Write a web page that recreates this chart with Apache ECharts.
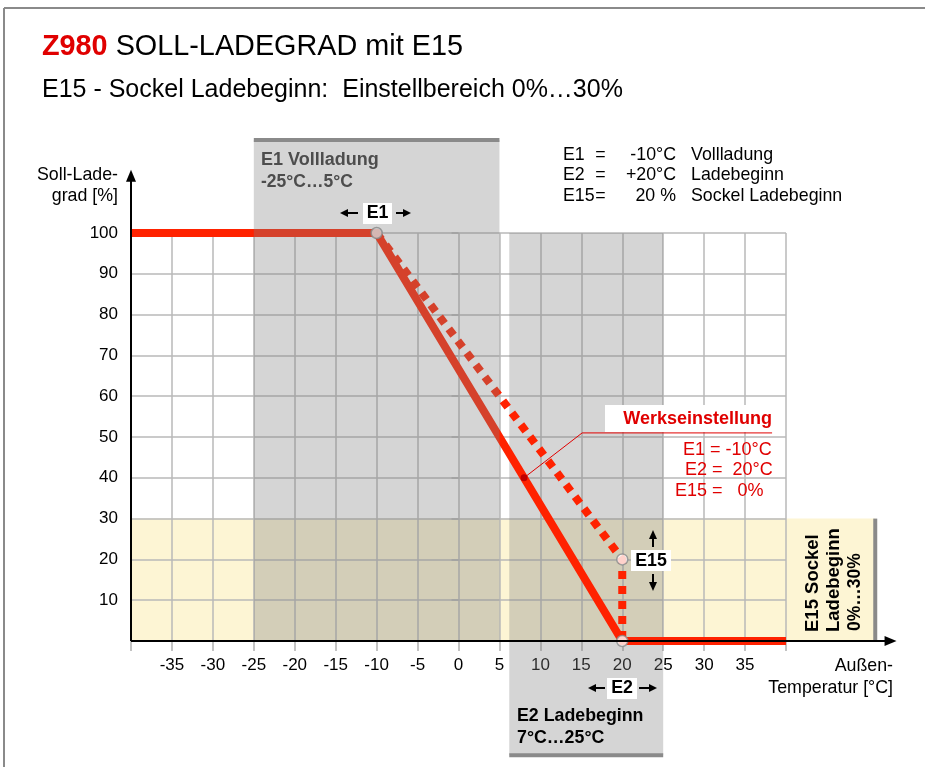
<!DOCTYPE html>
<html><head><meta charset="utf-8">
<script src="https://cdn.jsdelivr.net/npm/echarts@6/dist/echarts.min.js"></script>
<style>html,body{margin:0;padding:0;background:#fff}#c{width:925px;height:767px}</style>
</head><body><div id="c"></div>
<script>
// ---- data ----
const xTickLabels = [-35,-30,-25,-20,-15,-10,-5,0,5,10,15,20,25,30,35];
const yTickLabels = [10,20,30,40,50,60,70,80,90,100];
const solidX = [-40,-10,20,40];
const solidY = [100,100,0,0];
const dottedX = [-10,20,20];
const dottedY = [100,20,0];
const pointX = [-10,20,20];
const pointY = [100,20,0];
const leaderX = [8,15.1,38.3];
const leaderY = [40,51,51];
// bands: [x0, x1, y0, y1]
const bandE1 = [-25,5,0,122.8];
const bandE2 = [6.2,25,-28,100];
const bandE15 = [-40,50.9,0,30];
// axis arrows: [x0,y0,x1,y1]
const axisArrows = [[-40,0,53.5,0],[-40,0,-40,115.5]];

const FF = '"Liberation Sans", Arial, sans-serif';
const FS = 17.8;
const RED = '#ff2200';
const TXTRED = '#e00000';
const GRAYBAND = 'rgba(128,128,128,0.335)';
const zip = (a,b) => a.map((v,i)=>[v,b[i]]);

function bandSeries(band, fill, z, edge) {
  return {
    type:'custom', z:z, silent:true,
    data:[band],
    renderItem:(params, api) => {
      const x0=api.value(0), x1=api.value(1), y0=api.value(2), y1=api.value(3);
      const tl=api.coord([x0,y1]), br=api.coord([x1,y0]);
      const children=[{type:'rect', shape:{x:tl[0], y:tl[1], width:br[0]-tl[0], height:br[1]-tl[1]}, style:{fill:fill}}];
      let seg=null;
      if (edge==='top') seg=[tl[0],tl[1],br[0],tl[1]];
      if (edge==='bottom') seg=[tl[0],br[1],br[0],br[1]];
      if (edge==='right') seg=[br[0],tl[1],br[0],br[1]];
      if (seg) children.push({type:'line', shape:{x1:seg[0],y1:seg[1],x2:seg[2],y2:seg[3]}, style:{stroke:'#8a8a8a', lineWidth:4}});
      return {type:'group', children};
    }
  };
}
function txt(x, y, text, o) {
  o = o || {};
  return {type:'text', z:20, x:x, y:y, rotation:o.rot||0,
    style:{text:text, fontSize:o.fs||FS, fontWeight:o.bold?'bold':'normal', fontFamily:FF,
      fill:o.fill||'#000', align:o.align||'left', verticalAlign:'middle'}};
}
function hArrow(x1, x2, y) { // shaft from x1 toward tip x2
  const d = x2 > x1 ? 1 : -1;
  return [
    {type:'line', z:20, shape:{x1:x1,y1:y,x2:x2-d*6,y2:y}, style:{stroke:'#000', lineWidth:2}},
    {type:'polygon', z:20, shape:{points:[[x2,y],[x2-d*8,y-4],[x2-d*8,y+4]]}, style:{fill:'#000'}}
  ];
}
function vArrow(x, y1, y2) {
  const d = y2 > y1 ? 1 : -1;
  return [
    {type:'line', z:20, shape:{x1:x,y1:y1,x2:x,y2:y2-d*6}, style:{stroke:'#000', lineWidth:2}},
    {type:'polygon', z:20, shape:{points:[[x,y2],[x-4,y2-d*9],[x+4,y2-d*9]]}, style:{fill:'#000'}}
  ];
}

const chart = echarts.init(document.getElementById('c'), null, {renderer:'canvas'});
const option = {
  animation:false,
  backgroundColor:'#fff',
  grid:{left:131, right:139, top:233, bottom:126, containLabel:false},
  xAxis:{type:'value', min:-40, max:40, interval:5, z:1,
    axisLine:{show:false},
    axisTick:{show:true, length:10, lineStyle:{color:'#b0b0b0', width:1.5}},
    axisLabel:{margin:16, fontSize:17, color:'#000', fontFamily:FF,
      formatter:v => xTickLabels.includes(v) ? String(v) : ''},
    splitLine:{show:true, lineStyle:{color:'#b8b8b8', width:1.5}}
  },
  yAxis:{type:'value', min:0, max:100, interval:10, z:1,
    axisLine:{show:false},
    axisTick:{show:true, length:7, lineStyle:{color:'#b0b0b0', width:1.5}},
    axisLabel:{margin:13, fontSize:17, color:'#000', fontFamily:FF,
      formatter:v => yTickLabels.includes(v) ? String(v) : ''},
    splitLine:{show:true, lineStyle:{color:'#b8b8b8', width:1.5}}
  },
  series:[
    Object.assign(bandSeries(bandE15, '#fdf5d4', 0, 'right'), {name:'E15 band'}),
    Object.assign(bandSeries(bandE2, GRAYBAND, 2, 'bottom'), {name:'E2 band'}),
    {type:'line', name:'Soll', z:3, data:zip(solidX, solidY), showSymbol:false, symbol:'none',
      lineStyle:{color:RED, width:8, join:'miter'}},
    {type:'line', name:'E15', z:3, data:zip(dottedX, dottedY), showSymbol:false, symbol:'none',
      lineStyle:{color:RED, width:8, type:[8,7], cap:'butt', join:'miter'}},
    {type:'line', name:'Werk', z:3.4, data:zip(leaderX, leaderY).map((p,i)=>({value:p, symbol: i===0?'circle':'none', symbolSize:7})),
      showSymbol:true, lineStyle:{color:TXTRED, width:1}, itemStyle:{color:'#c00000'}},
    {type:'scatter', name:'pts', z:3.5, data:zip(pointX, pointY), symbol:'circle', symbolSize:11,
      itemStyle:{color:'#fff', borderColor:'#8a8a8a', borderWidth:1.5}},
    Object.assign(bandSeries(bandE1, GRAYBAND, 4, 'top'), {name:'E1 band'}),
    {type:'custom', name:'axes', z:6, silent:true, data:axisArrows,
      renderItem:(params, api) => {
        const p0=api.coord([api.value(0),api.value(1)]), p1=api.coord([api.value(2),api.value(3)]);
        const horiz = Math.abs(p1[1]-p0[1]) < 1;
        const L=12, W=5;
        const head = horiz ? [[p1[0],p1[1]],[p1[0]-L,p1[1]-W],[p1[0]-L,p1[1]+W]]
                           : [[p1[0],p1[1]],[p1[0]-W,p1[1]+L],[p1[0]+W,p1[1]+L]];
        const end = horiz ? [p1[0]-L+1,p1[1]] : [p1[0],p1[1]+L-1];
        return {type:'group', children:[
          {type:'line', shape:{x1:p0[0],y1:p0[1],x2:end[0],y2:end[1]}, style:{stroke:'#000', lineWidth:2}},
          {type:'polygon', shape:{points:head}, style:{fill:'#000'}}
        ]};
      }}
  ],
  graphic:[
    // frame
    {type:'line', z:20, shape:{x1:4,y1:8,x2:925,y2:8}, style:{stroke:'#8a8a8a', lineWidth:2}},
    {type:'line', z:20, shape:{x1:4,y1:8,x2:4,y2:767}, style:{stroke:'#8a8a8a', lineWidth:2}},
    // title
    {type:'text', z:20, x:42, y:47, style:{text:'{r|Z980} SOLL-LADEGRAD mit E15', fontSize:28.8, fontFamily:FF, fill:'#000', verticalAlign:'middle',
      rich:{r:{fontSize:28.8, fontFamily:FF, fontWeight:'bold', fill:TXTRED}}}},
    txt(42, 90, 'E15 - Sockel Ladebeginn:  Einstellbereich 0%…30%', {fs:25}),
    // legend block
    ...[['E1','-10°C','Vollladung',155],['E2','+20°C','Ladebeginn',175.5],['E15','20 %','Sockel Ladebeginn',196]].flatMap(r=>[
      txt(563, r[3], r[0]),
      txt(600.5, r[3], '=', {align:'center'}),
      txt(676, r[3], r[1], {align:'right'}),
      txt(691, r[3], r[2])
    ]),
    // axis names
    txt(118, 175, 'Soll-Lade-', {align:'right'}),
    txt(118, 196, 'grad [%]', {align:'right'}),
    txt(893, 666, 'Außen-', {align:'right'}),
    txt(893, 688, 'Temperatur [°C]', {align:'right'}),
    // band labels
    txt(261, 160, 'E1 Vollladung', {bold:true, fs:18, fill:'#4d4d4d'}),
    txt(261, 182, '-25°C…5°C', {bold:true, fs:17.5, fill:'#4d4d4d'}),
    txt(517, 716, 'E2 Ladebeginn', {bold:true}),
    txt(517, 738, '7°C…25°C', {bold:true}),
    txt(813, 632, 'E15 Sockel', {bold:true, fs:18.5, rot:Math.PI/2}),
    txt(834, 632, 'Ladebeginn', {bold:true, fs:18.5, rot:Math.PI/2}),
    txt(855, 631, '0%…30%', {bold:true, fs:17.5, rot:Math.PI/2}),
    // Werkseinstellung
    {type:'rect', z:15, shape:{x:605,y:405,width:168,height:27}, style:{fill:'#fff'}},
    txt(772, 419, 'Werkseinstellung', {bold:true, fs:18, fill:TXTRED, align:'right'}),
    txt(683, 450, 'E1 = -10°C', {fs:18, fill:TXTRED}),
    txt(685, 470, 'E2 =  20°C', {fs:18, fill:TXTRED}),
    txt(675, 491, 'E15 =   0%', {fs:18, fill:TXTRED}),
    // E1 marker label
    {type:'rect', z:15, shape:{x:363,y:203,width:29,height:21}, style:{fill:'#fff'}},
    txt(377.5, 213.5, 'E1', {bold:true, align:'center'}),
    ...hArrow(358, 340, 213), ...hArrow(396, 411, 213),
    // E2 marker label
    {type:'rect', z:15, shape:{x:607,y:678,width:30,height:21}, style:{fill:'#fff'}},
    txt(622, 688.5, 'E2', {bold:true, align:'center'}),
    ...hArrow(605, 588, 688), ...hArrow(639, 657, 688),
    // E15 marker label
    {type:'rect', z:15, shape:{x:631,y:550,width:40,height:21}, style:{fill:'#fff'}},
    txt(651, 561, 'E15', {bold:true, align:'center'}),
    ...vArrow(653, 547, 530), ...vArrow(653, 574, 591)
  ]
};
chart.setOption(option);
</script></body></html>
